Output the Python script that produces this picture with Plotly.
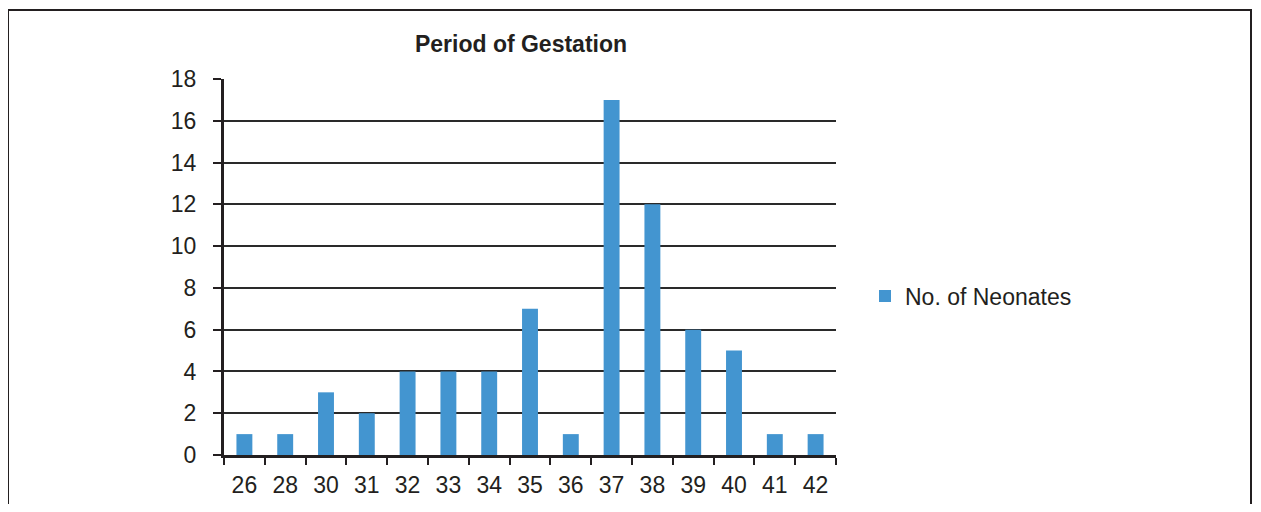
import plotly.graph_objects as go

weeks = ["26", "28", "30", "31", "32", "33", "34", "35", "36", "37", "38", "39", "40", "41", "42"]
neonates = [1, 1, 3, 2, 4, 4, 4, 7, 1, 17, 12, 6, 5, 1, 1]
y_ticks = [0, 2, 4, 6, 8, 10, 12, 14, 16, 18]

O = 8  # body margin offset of the page
W, H = 1261 - 2 * O, 512 - 2 * O
L, R, T, B = 224 - O, 836 - O, 79 - O, 455 - O
pw, ph = R - L, B - T

def px(x):
    return (x - O - L) / pw

def py(y):
    return (B - (y - O)) / ph

fig = go.Figure()
fig.add_trace(go.Bar(
    x=weeks, y=neonates, name="No. of Neonates",
    marker=dict(color="#4395d0", line=dict(width=0)),
    showlegend=True,
))

fig.update_layout(
    width=W, height=H,
    margin=dict(l=L, r=W - R, t=T, b=H - B, autoexpand=False),
    paper_bgcolor="white", plot_bgcolor="white",
    font=dict(family="Liberation Sans, Arial, sans-serif", color="#231f20", size=23),
    bargap=0.61,
    title=dict(text="<b>Period of Gestation</b>", xref="container", x=(521 - O) / W,
               xanchor="center", yref="container",
               y=1 - (44 - O) / H, yanchor="middle", font=dict(size=23, color="#231f20")),
    showlegend=True,
    legend=dict(x=px(865), y=py(296), xanchor="left", yanchor="middle",
                font=dict(size=23, color="#231f20"), bgcolor="rgba(0,0,0,0)",
                itemwidth=30),
    xaxis=dict(type="category", showline=True, linecolor="#231f20", linewidth=3,
               ticks="outside", ticklen=7, tickwidth=2, tickcolor="#231f20",
               tickson="boundaries", showgrid=False, tickfont=dict(size=23),
               ticklabelstandoff=7, fixedrange=True),
    yaxis=dict(range=[0, 18], tickvals=y_ticks, showline=True, linecolor="#231f20",
               linewidth=3, ticks="outside", ticklen=8, tickwidth=1.5,
               tickcolor="#231f20", showgrid=True, gridcolor="#2a2a2a", gridwidth=1.5,
               zeroline=False, tickfont=dict(size=23), ticklabelstandoff=12),
    shapes=[dict(type="rect", xref="paper", yref="paper",
                 x0=px(8), x1=px(1251), y0=py(530), y1=py(10),
                 line=dict(color="#231f20", width=2), fillcolor="rgba(0,0,0,0)",
                 layer="below")],
)

fig.write_html("out.html")
